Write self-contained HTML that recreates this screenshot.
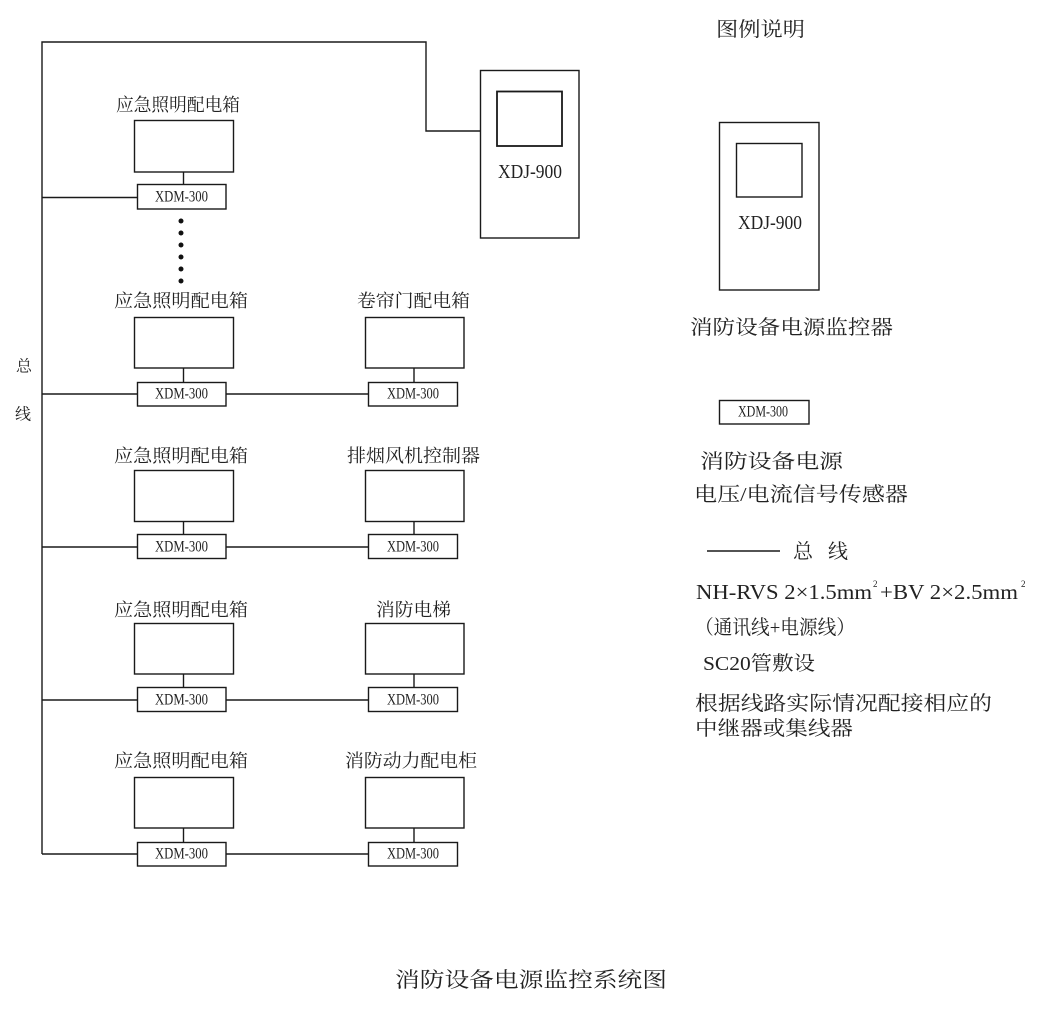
<!DOCTYPE html>
<html>
<head>
<meta charset="utf-8">
<style>
  html,body{margin:0;padding:0;background:#fff;}
  svg{display:block;}
  .cj{font-family:"Liberation Serif","Noto Serif CJK SC",serif;fill:#222;}
  .lt{font-family:"Liberation Serif","Noto Serif CJK SC",serif;fill:#222;}
</style>
</head>
<body>
<svg width="1038" height="1014" viewBox="0 0 1038 1014" xmlns="http://www.w3.org/2000/svg">
  <g fill="none" stroke="#1a1a1a" stroke-width="1.4">
    <!-- bus -->
    <polyline points="42,854 42,42 426,42 426,131 480,131"/>
    <!-- main XDJ -->
    <rect x="480.5" y="70.5" width="98.5" height="167.5"/>
    <rect x="497" y="91.5" width="65" height="54.5" stroke-width="1.8"/>
    <!-- legend XDJ -->
    <rect x="719.5" y="122.5" width="99.5" height="167.5"/>
    <rect x="736.5" y="143.5" width="65.5" height="53.5"/>
    <!-- legend XDM -->
    <rect x="719.5" y="400.5" width="89.5" height="23.5"/>
    <!-- legend line -->
    <line x1="707" y1="551" x2="780" y2="551"/>

    <!-- row 1 -->
    <rect x="134.5" y="120.5" width="99" height="51.5"/>
    <line x1="183.5" y1="172" x2="183.5" y2="184"/>
    <rect x="137.5" y="184.5" width="88.5" height="24.5"/>
    <line x1="42" y1="197.5" x2="137.5" y2="197.5"/>

    <!-- row 2 -->
    <rect x="134.5" y="317.5" width="99" height="50.5"/>
    <line x1="183.5" y1="368" x2="183.5" y2="382"/>
    <rect x="137.5" y="382.5" width="88.5" height="23.5"/>
    <line x1="42" y1="394" x2="137.5" y2="394"/>
    <line x1="226" y1="394" x2="368.5" y2="394"/>
    <rect x="365.5" y="317.5" width="98.5" height="50.5"/>
    <line x1="414" y1="368" x2="414" y2="382"/>
    <rect x="368.5" y="382.5" width="89" height="23.5"/>

    <!-- row 3 -->
    <rect x="134.5" y="470.5" width="99" height="51"/>
    <line x1="183.5" y1="521.5" x2="183.5" y2="534.5"/>
    <rect x="137.5" y="534.5" width="88.5" height="24"/>
    <line x1="42" y1="547" x2="137.5" y2="547"/>
    <line x1="226" y1="547" x2="368.5" y2="547"/>
    <rect x="365.5" y="470.5" width="98.5" height="51"/>
    <line x1="414" y1="521.5" x2="414" y2="534.5"/>
    <rect x="368.5" y="534.5" width="89" height="24"/>

    <!-- row 4 -->
    <rect x="134.5" y="623.5" width="99" height="50.5"/>
    <line x1="183.5" y1="674" x2="183.5" y2="687.5"/>
    <rect x="137.5" y="687.5" width="88.5" height="24"/>
    <line x1="42" y1="700" x2="137.5" y2="700"/>
    <line x1="226" y1="700" x2="368.5" y2="700"/>
    <rect x="365.5" y="623.5" width="98.5" height="50.5"/>
    <line x1="414" y1="674" x2="414" y2="687.5"/>
    <rect x="368.5" y="687.5" width="89" height="24"/>

    <!-- row 5 -->
    <rect x="134.5" y="777.5" width="99" height="50.5"/>
    <line x1="183.5" y1="828" x2="183.5" y2="842"/>
    <rect x="137.5" y="842.5" width="88.5" height="23.5"/>
    <line x1="42" y1="854" x2="137.5" y2="854"/>
    <line x1="226" y1="854" x2="368.5" y2="854"/>
    <rect x="365.5" y="777.5" width="98.5" height="50.5"/>
    <line x1="414" y1="828" x2="414" y2="842"/>
    <rect x="368.5" y="842.5" width="89" height="23.5"/>
  </g>

  <!-- dots -->
  <g fill="#111">
    <circle cx="181" cy="221" r="2.5"/>
    <circle cx="181" cy="233" r="2.5"/>
    <circle cx="181" cy="245" r="2.5"/>
    <circle cx="181" cy="257" r="2.5"/>
    <circle cx="181" cy="269" r="2.5"/>
    <circle cx="181" cy="281" r="2.5"/>
  </g>

  <!-- left labels -->
  <g class="cj" font-size="18" dominant-baseline="central">
    <text x="116" y="105" textLength="124" lengthAdjust="spacingAndGlyphs">应急照明配电箱</text>
    <text x="114" y="301" textLength="134" lengthAdjust="spacingAndGlyphs">应急照明配电箱</text>
    <text x="114" y="456" textLength="134" lengthAdjust="spacingAndGlyphs">应急照明配电箱</text>
    <text x="114" y="610" textLength="134" lengthAdjust="spacingAndGlyphs">应急照明配电箱</text>
    <text x="114" y="761" textLength="134" lengthAdjust="spacingAndGlyphs">应急照明配电箱</text>

    <text x="357" y="301" textLength="113" lengthAdjust="spacingAndGlyphs">卷帘门配电箱</text>
    <text x="347" y="456" textLength="133" lengthAdjust="spacingAndGlyphs">排烟风机控制器</text>
    <text x="376" y="610" textLength="75" lengthAdjust="spacingAndGlyphs">消防电梯</text>
    <text x="345" y="761" textLength="132" lengthAdjust="spacingAndGlyphs">消防动力配电柜</text>
  </g>

  <!-- bus label -->
  <g class="cj" font-size="16" dominant-baseline="central">
    <text x="16" y="367">总</text>
    <text x="15" y="415">线</text>
  </g>

  <!-- XDM labels -->
  <g class="lt" font-size="16" dominant-baseline="central">
    <text x="155" y="197" textLength="53" lengthAdjust="spacingAndGlyphs">XDM-300</text>
    <text x="155" y="394" textLength="53" lengthAdjust="spacingAndGlyphs">XDM-300</text>
    <text x="155" y="547" textLength="53" lengthAdjust="spacingAndGlyphs">XDM-300</text>
    <text x="155" y="700" textLength="53" lengthAdjust="spacingAndGlyphs">XDM-300</text>
    <text x="155" y="854" textLength="53" lengthAdjust="spacingAndGlyphs">XDM-300</text>
    <text x="387" y="394" textLength="52" lengthAdjust="spacingAndGlyphs">XDM-300</text>
    <text x="387" y="547" textLength="52" lengthAdjust="spacingAndGlyphs">XDM-300</text>
    <text x="387" y="700" textLength="52" lengthAdjust="spacingAndGlyphs">XDM-300</text>
    <text x="387" y="854" textLength="52" lengthAdjust="spacingAndGlyphs">XDM-300</text>
    <text x="738" y="412" textLength="50" lengthAdjust="spacingAndGlyphs">XDM-300</text>
  </g>

  <!-- XDJ labels -->
  <g class="lt" font-size="20" dominant-baseline="central">
    <text x="498" y="172" textLength="64" lengthAdjust="spacingAndGlyphs">XDJ-900</text>
    <text x="738" y="223" textLength="64" lengthAdjust="spacingAndGlyphs">XDJ-900</text>
  </g>

  <!-- legend text -->
  <g class="cj" font-size="20" dominant-baseline="central">
    <text x="716" y="30" textLength="89" lengthAdjust="spacingAndGlyphs">图例说明</text>
    <text x="690" y="328" textLength="203" lengthAdjust="spacingAndGlyphs">消防设备电源监控器</text>
    <text x="700" y="462" textLength="143" lengthAdjust="spacingAndGlyphs">消防设备电源</text>
    <text x="694" y="495" textLength="214" lengthAdjust="spacingAndGlyphs">电压/电流信号传感器</text>
    <text x="793" y="552">总</text>
    <text x="828" y="552">线</text>
    <text x="695" y="628" textLength="160" lengthAdjust="spacingAndGlyphs">（通讯线+电源线）</text>
    <text x="703" y="664" textLength="112" lengthAdjust="spacingAndGlyphs">SC20管敷设</text>
    <text x="695" y="704" textLength="297" lengthAdjust="spacingAndGlyphs">根据线路实际情况配接相应的</text>
    <text x="695" y="729" textLength="158" lengthAdjust="spacingAndGlyphs">中继器或集线器</text>
  </g>
  <g class="lt" font-size="21" dominant-baseline="central">
    <text x="696" y="592" textLength="176" lengthAdjust="spacingAndGlyphs">NH-RVS 2×1.5mm</text>
    <text x="873" y="584" font-size="9">2</text>
    <text x="880" y="592" textLength="138" lengthAdjust="spacingAndGlyphs">+BV 2×2.5mm</text>
    <text x="1021" y="584" font-size="9">2</text>
  </g>

  <!-- title -->
  <text class="cj" x="395" y="980" font-size="21" dominant-baseline="central" textLength="272" lengthAdjust="spacingAndGlyphs">消防设备电源监控系统图</text>
</svg>
</body>
</html>
